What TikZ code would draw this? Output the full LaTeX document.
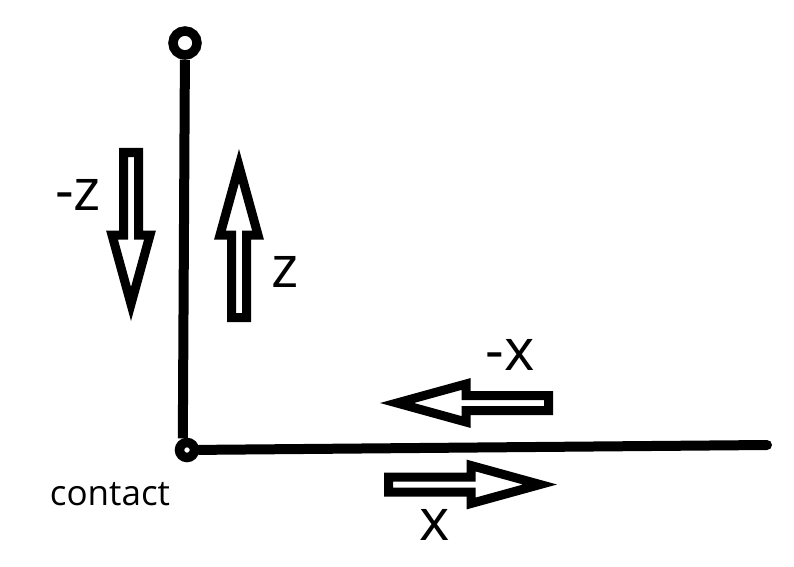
\documentclass[tikz,border=0pt]{standalone}
\usepackage{fontspec}
\setmainfont{Open Sans}
\usetikzlibrary{positioning}

\begin{document}
\begin{tikzpicture}[
x=1pt,y=1pt,
axis/.style={line width=10pt},
joint/.style={circle,draw,line width=9.5pt,inner sep=0pt,fill=white},
hollow/.style={draw,line width=9pt,fill=white,miter limit=20},
big/.style={font=\fontsize{58}{62}\selectfont,inner sep=0pt},
small/.style={font=\fontsize{35}{38}\selectfont,inner sep=0pt},
blockarrow/.pic={\draw[hollow] (4.5,7.5) -- (87,7.5) -- (87,19) -- (156,0) -- (87,-19) -- (87,-7.5) -- (4.5,-7.5) -- cycle;}
]
\useasboundingbox (0,0) rectangle (794,566);

% joints and axes
\node[joint,minimum size=24pt] (top) at (185,523) {};
\node[joint,minimum size=15pt] (contact) at (187,116) {};
\coordinate (xend) at (767,121);
\draw[axis] (top) -- (contact.110);
\draw[axis,line cap=round] (contact) -- (xend);

% arrows
\pic[rotate=-90] at (131,418) {blockarrow};
\pic[rotate=90] at (239,244) {blockarrow};
\pic[rotate=180] at (553,163) {blockarrow};
\pic at (384,81.5) {blockarrow};

% labels
\node[big] (lnz) at (78,371) {-z};
\node[big] (lz) at (285,294) {z};
\node[big] (lnx) at (510,211) {-x};
\node[big] (lx) at (435,41) {x};
\node[small] (lc) at (110,72) {contact};
\end{tikzpicture}
\end{document}
